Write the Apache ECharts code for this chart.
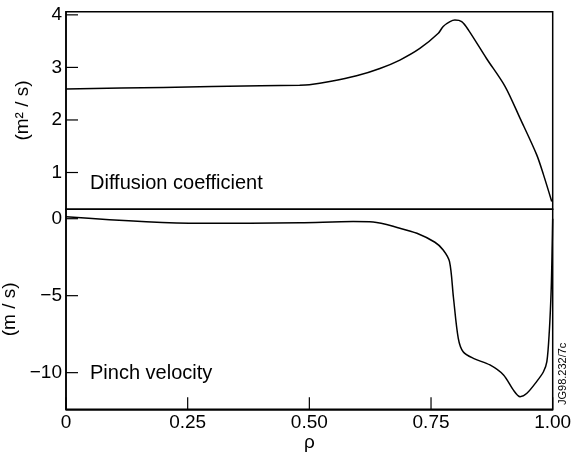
<!DOCTYPE html>
<html>
<head>
<meta charset="utf-8">
<script src="https://cdn.jsdelivr.net/npm/echarts@6/dist/echarts.min.js"></script>
<style>html,body{margin:0;padding:0;background:#fff}#c{width:571px;height:456px}</style>
</head>
<body>
<div id="c"></div>
<script>
// Diffusion coefficient (m^2/s) vs rho
const diffRho = [0, 0.2, 0.4, 0.48, 0.50, 0.542, 0.597, 0.645, 0.686, 0.727, 0.765, 0.775, 0.789, 0.799, 0.813, 0.827, 0.864, 0.902, 0.933, 0.967, 0.981, 0.998];
const diffVal = [2.59, 2.62, 2.65, 2.66, 2.67, 2.73, 2.84, 2.98, 3.14, 3.36, 3.65, 3.78, 3.87, 3.90, 3.87, 3.71, 3.17, 2.64, 2.03, 1.34, 0.96, 0.45];
// Pinch velocity (m/s) vs rho
const pinchRho = [0, 0.275, 0.481, 0.590, 0.631, 0.686, 0.721, 0.758, 0.775, 0.788, 0.796, 0.806, 0.816, 0.837, 0.871, 0.899, 0.919, 0.933, 0.947, 0.967, 0.981, 0.988, 0.993, 0.997, 0.999, 1.0];
const pinchVal = [0.13, -0.30, -0.26, -0.19, -0.21, -0.62, -0.95, -1.53, -2.03, -2.79, -5.1, -7.77, -8.64, -9.07, -9.5, -10.15, -11.12, -11.56, -11.34, -10.58, -9.94, -9.29, -7.34, -4.52, -1.7, 0.0];
const xTicks = [0, 0.25, 0.5, 0.75, 1.0];
const topTicks = [1, 2, 3, 4];
const bottomTicks = [-10, -5, 0];
const topRange = [0.3, 4.06];
const bottomRange = [-12.38, 0.61];

const FONT = 'Liberation Sans, Arial, Helvetica, sans-serif';
const TICK = 12;
const chart = echarts.init(document.getElementById('c'));
const zip = (a, b) => a.map((v, i) => [v, b[i]]);
const frame = {show: true, borderColor: '#000', borderWidth: 1.5, outerBoundsMode: 'none'};
const yMain = (g, range, ticks, name) => ({
  gridIndex: g, type: 'value', min: range[0], max: range[1], position: 'left', name: name, nameLocation: 'middle', nameGap: 34,
  nameTextStyle: {color: '#000', fontSize: 19, fontFamily: FONT},
  axisLine: {show: true, onZero: false, lineStyle: {color: '#000', width: 1.5}},
  axisTick: {show: false},
  axisLabel: {customValues: ticks, color: '#000', fontSize: 19, fontFamily: FONT, margin: 4,
    formatter: v => (v < 0 ? '\u2212' + Math.abs(v) : String(v))},
  splitLine: {show: false}
});
// inward tick marks drawn through the axes' own scales (custom series)
const tickSeries = (xi, yi, points, dx, dy) => ({
  type: 'custom', xAxisIndex: xi, yAxisIndex: yi, silent: true, clip: false, z: 5,
  data: points,
  renderItem: (params, api) => {
    const p = api.coord([api.value(0), api.value(1)]);
    return {type: 'line', shape: {x1: p[0], y1: p[1], x2: p[0] + dx, y2: p[1] + dy},
      style: {stroke: '#000', lineWidth: 1.2}};
  }
});
chart.setOption({
  animation: false,
  grid: [
    Object.assign({left: 66, right: 18.3, top: 11.7, height: 197.6}, frame),
    Object.assign({left: 66, right: 18.3, top: 209.3, height: 200}, frame)
  ],
  xAxis: [
    {gridIndex: 0, type: 'value', min: 0, max: 1, axisLine: {show: false, onZero: false}, axisTick: {show: false}, axisLabel: {show: false}, splitLine: {show: false}},
    {gridIndex: 1, type: 'value', min: 0, max: 1, position: 'bottom', name: 'ρ', nameLocation: 'middle', nameGap: 21,
      nameTextStyle: {color: '#000', fontSize: 19, fontFamily: FONT},
      axisLine: {show: true, onZero: false, lineStyle: {color: '#000', width: 1.5}},
      axisTick: {show: false},
      axisLabel: {customValues: xTicks, color: '#000', fontSize: 19, fontFamily: FONT, margin: 4,
        formatter: v => (v === 0 ? '0' : v.toFixed(2))},
      splitLine: {show: false}}
  ],
  yAxis: [
    yMain(0, topRange, topTicks, '(m² / s)'),
    yMain(1, bottomRange, bottomTicks, '(m / s)')
  ],
  series: [
    {type: 'line', xAxisIndex: 0, yAxisIndex: 0, data: zip(diffRho, diffVal), showSymbol: false,
      smooth: 0.3, lineStyle: {color: '#000', width: 1.5}},
    {type: 'line', xAxisIndex: 1, yAxisIndex: 1, data: zip(pinchRho, pinchVal), showSymbol: false,
      smooth: 0.3, lineStyle: {color: '#000', width: 1.5}},
    tickSeries(0, 0, topTicks.map(v => [0, v]), TICK, 0),
    tickSeries(1, 1, bottomTicks.map(v => [0, v]), TICK, 0),
    tickSeries(1, 1, xTicks.map(v => [v, bottomRange[0]]), 0, -TICK)
  ],
  graphic: [
    {type: 'text', left: 90, top: 173, style: {text: 'Diffusion coefficient', fill: '#000', fontSize: 20, fontFamily: FONT}},
    {type: 'text', left: 90, top: 363, style: {text: 'Pinch velocity', fill: '#000', fontSize: 20, fontFamily: FONT}},
    {type: 'text', x: 557, y: 405, rotation: Math.PI / 2, style: {text: 'JG98.232/7c', fill: '#000', fontSize: 11, fontFamily: FONT}}
  ]
});
</script>
</body>
</html>
